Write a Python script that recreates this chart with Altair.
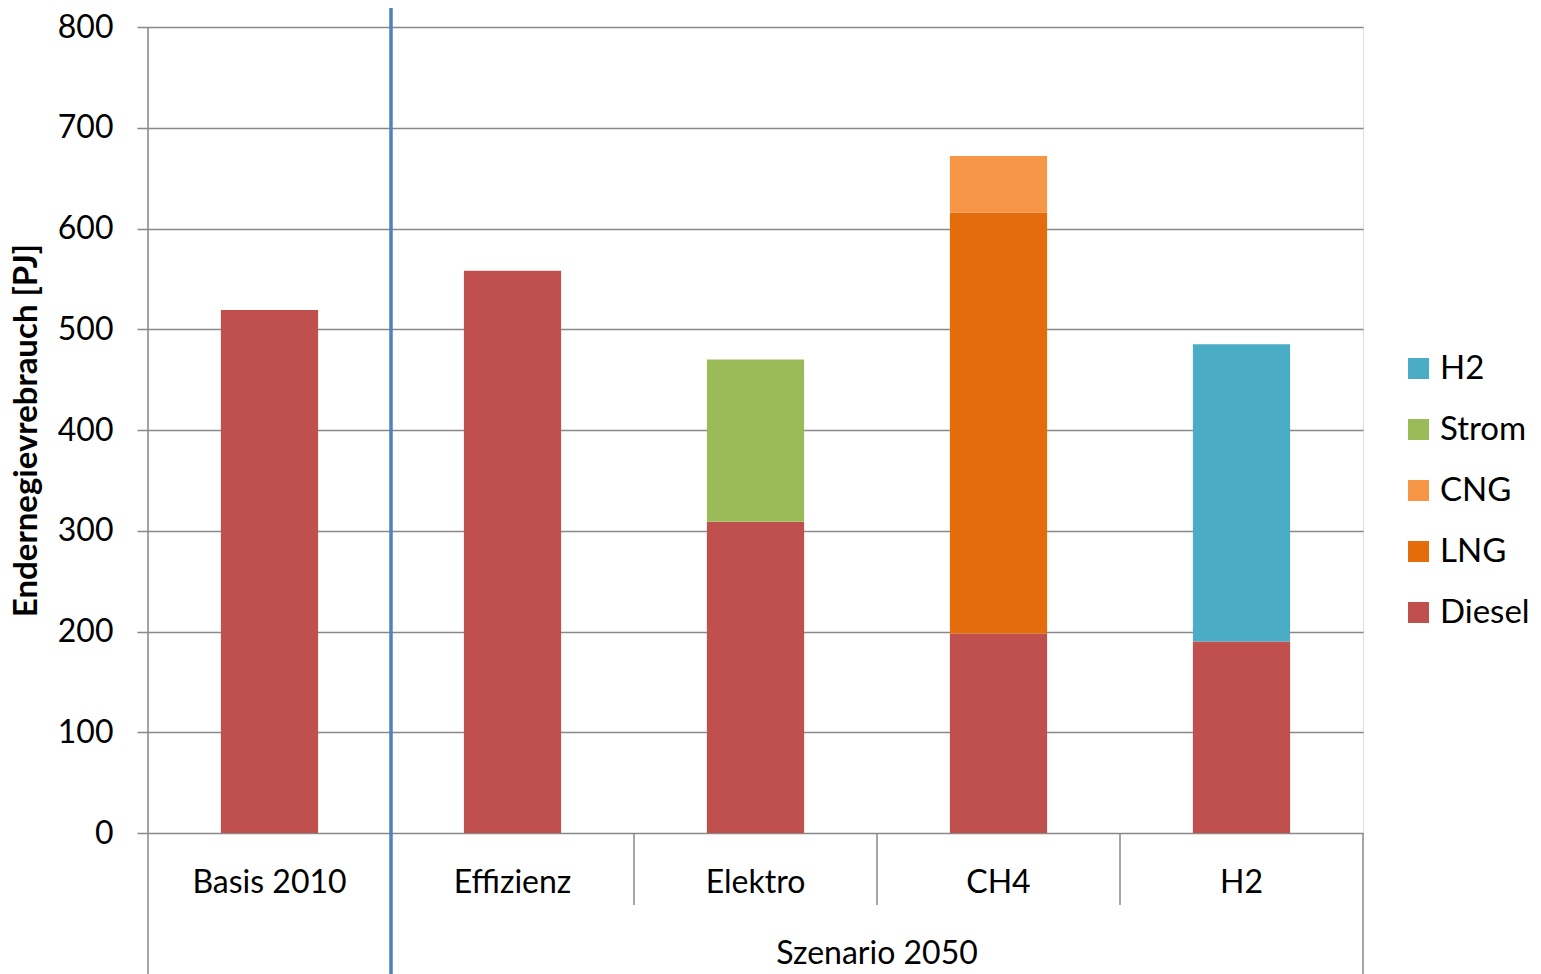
import altair as alt
import pandas as pd

# ---- data ----
categories = ["Basis 2010", "Effizienz", "Elektro", "CH4", "H2"]
stack_order = ["Diesel", "LNG", "CNG", "Strom", "H2"]          # bottom -> top
diesel = [519, 558, 309, 198, 190]
lng = [0, 0, 0, 418, 0]
cng = [0, 0, 0, 56, 0]
strom = [0, 0, 161, 0, 0]
h2 = [0, 0, 0, 0, 295]
legend_order = ["H2", "Strom", "CNG", "LNG", "Diesel"]
legend_colors = ["#4BACC6", "#9BBB59", "#F79646", "#E46C0A", "#C0504D"]
y_ticks = [0, 100, 200, 300, 400, 500, 600, 700, 800]
y_title = "Endernegievrebrauch [PJ]"
group_label = "Szenario 2050"

# ---- layout ----
W, H = 1215, 806
BAR = 0.4
FONT = "Lato"
GRAY = "#898989"

series = {"Diesel": diesel, "LNG": lng, "CNG": cng, "Strom": strom, "H2": h2}
rows = []
for i, cat in enumerate(categories):
    base = 0
    for c in stack_order:
        v = series[c][i]
        if v > 0:
            rows.append(dict(cat=cat, carrier=c, lo=base, hi=base + v,
                             x0=i + 0.5 - BAR / 2, x1=i + 0.5 + BAR / 2))
            base += v
bars_df = pd.DataFrame(rows)

n = len(categories)
xs = alt.Scale(domain=[0, n], nice=False, zero=False)
ys = alt.Scale(domain=[0, 800], nice=False)

bars = alt.Chart(bars_df).mark_bar(stroke=None).encode(
    x=alt.X("x0:Q", scale=xs, axis=None),
    x2="x1",
    y=alt.Y("lo:Q", scale=ys,
            axis=alt.Axis(values=y_ticks, title=y_title, domain=False,
                          grid=True, gridColor=GRAY, gridWidth=1.5,
                          tickSize=11, tickColor=GRAY, tickWidth=1.5,
                          labelFont=FONT, labelFontSize=32, labelColor="black",
                          labelPadding=24,
                          titleFont=FONT, titleFontSize=33, titleFontWeight="bold",
                          titleColor="black", titleX=-105, titleY=H / 2)),
    y2="hi",
    color=alt.Color("carrier:N",
                    scale=alt.Scale(domain=legend_order, range=legend_colors),
                    legend=alt.Legend(title=None, orient="none", legendX=1254, legendY=325,
                                      symbolType="square", symbolSize=441,
                                      symbolStrokeWidth=0, labelFont=FONT,
                                      labelFontSize=33, labelColor="black",
                                      labelOffset=5, rowPadding=27, padding=0)),
)

edges = pd.DataFrame({"x": list(range(n + 1))})

left_line = alt.Chart(edges[edges.x == 0]).mark_rule(color=GRAY, strokeWidth=1.5).encode(
    x=alt.X("x:Q", scale=xs), y=alt.value(0), y2=alt.value(H + 141))
right_line = alt.Chart(edges[edges.x == n]).mark_rule(color=GRAY, strokeWidth=1.5).encode(
    x=alt.X("x:Q", scale=xs), y=alt.value(H), y2=alt.value(H + 141))
inner_lines = alt.Chart(edges[(edges.x >= 2) & (edges.x < n)]).mark_rule(color=GRAY, strokeWidth=1.5).encode(
    x=alt.X("x:Q", scale=xs), y=alt.value(H), y2=alt.value(H + 72))
blue_line = alt.Chart(edges[edges.x == 1]).mark_rule(color="#4F81BD", strokeWidth=3.5).encode(
    x=alt.X("x:Q", scale=xs), y=alt.value(-20), y2=alt.value(H + 141))

cat_df = pd.DataFrame({"cat": categories, "x": [i + 0.5 for i in range(n)]})
cat_text = alt.Chart(cat_df).mark_text(font=FONT, fontSize=32, color="black",
                                       baseline="middle", align="center").encode(
    x=alt.X("x:Q", scale=xs), y=alt.value(H + 50), text="cat:N")

grp_df = pd.DataFrame({"label": [group_label], "x": [(1 + n) / 2]})
grp_text = alt.Chart(grp_df).mark_text(font=FONT, fontSize=32, color="black",
                                       baseline="middle", align="center").encode(
    x=alt.X("x:Q", scale=xs), y=alt.value(H + 121), text="label:N")

chart = alt.layer(bars, left_line, right_line, inner_lines, blue_line, cat_text, grp_text).properties(
    width=W, height=H,
    padding={"left": 140, "top": 19, "right": 170, "bottom": 141},
    autosize=alt.AutoSizeParams(type="none"),
).configure_view(stroke=None).configure(background="white")

chart.save("out.html", embed_options={"renderer": "svg", "actions": False})
